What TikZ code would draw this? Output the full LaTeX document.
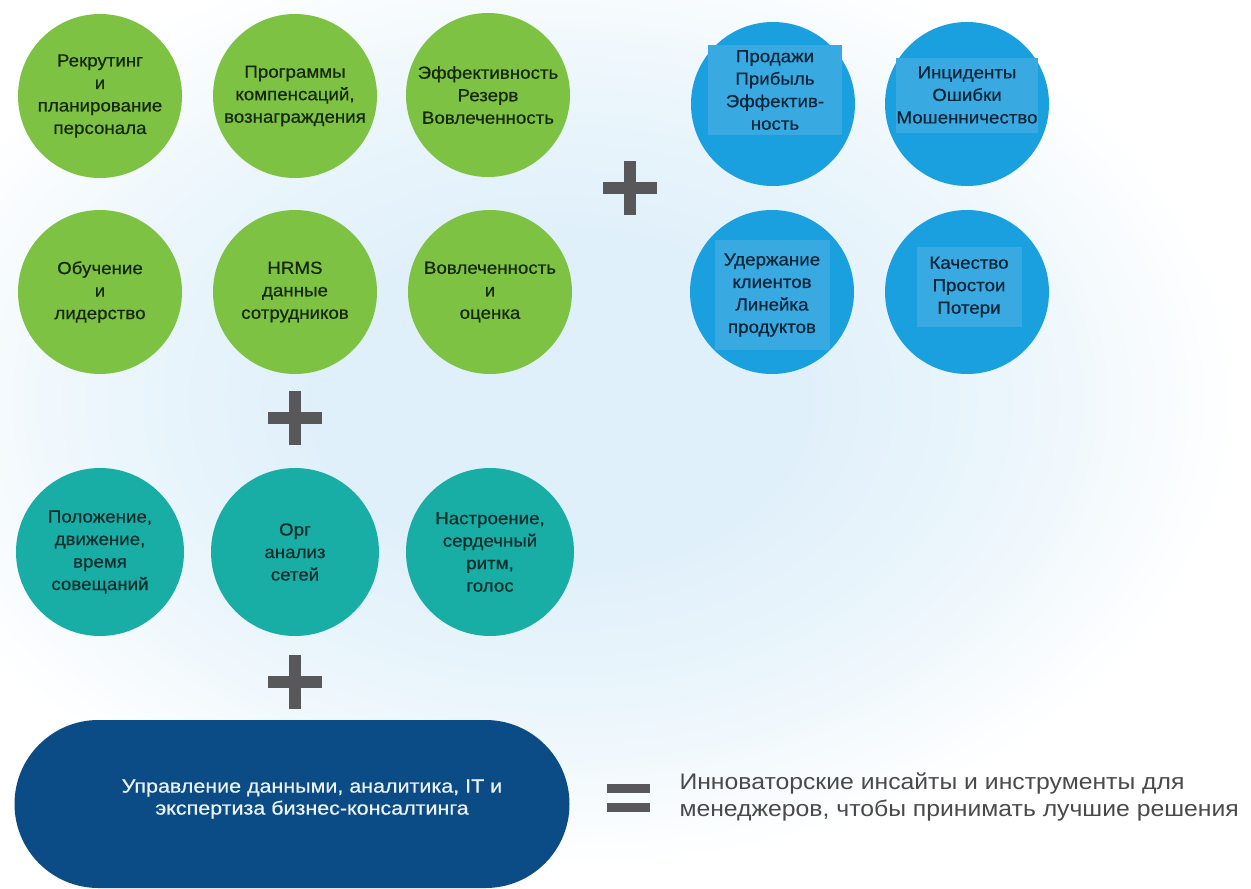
\documentclass[tikz,border=0pt]{standalone}
\usepackage{fontspec}
\setmainfont{Liberation Sans}
\newfontfamily\circfont[FakeStretch=1.07, FakeBold=0.6]{Liberation Sans}
\newfontfamily\pillfont[FakeStretch=1.13, FakeBold=0.6]{Liberation Sans}
\newfontfamily\resfont[FakeStretch=1.1]{Liberation Sans}
\definecolor{greenc}{HTML}{7DC242}
\definecolor{tealc}{HTML}{18AEA6}
\definecolor{bluec}{HTML}{1BA0DF}
\definecolor{rectc}{HTML}{38AAE1}
\definecolor{navyc}{HTML}{0B4C86}
\definecolor{signc}{HTML}{58585A}
\definecolor{gtext}{HTML}{17280C}
\definecolor{ttext}{HTML}{0C2E2C}
\definecolor{btext}{HTML}{0A2438}
\definecolor{rtext}{HTML}{4A4A4A}
\definecolor{glowA}{HTML}{E0F0FA}
\definecolor{glowB}{HTML}{ECF6FC}
\pgfdeclareradialshading{glow}{\pgfpoint{0bp}{0bp}}{color(0bp)=(glowA); color(9bp)=(glowA); color(17bp)=(glowB); color(25bp)=(white); color(50bp)=(white)}
\tikzset{
  circtext/.style={font=\circfont\fontsize{17.5}{22.5}\selectfont, align=center},
  gcirc/.style={circle, fill=greenc, minimum size=164pt, inner sep=0pt, circtext, text=gtext},
  tcirc/.style={circle, fill=tealc, minimum size=168pt, inner sep=0pt, circtext, text=ttext},
  bcirc/.style={circle, fill=bluec, minimum size=164pt, inner sep=0pt},
  brect/.style={rectangle, fill=rectc, inner sep=0pt, circtext, text=btext},
  pill/.style={rectangle, rounded corners=84pt, fill=navyc, minimum width=555pt, minimum height=168pt, inner sep=0pt},
  pilltext/.style={font=\pillfont\fontsize{19}{22}\selectfont, align=center, text=white!92!navyc},
  restext/.style={font=\resfont\fontsize{22.5}{27}\selectfont, align=left, text=rtext, anchor=west},
  plussign/.pic={\fill[signc] (-27,-6) rectangle (27,6); \fill[signc] (-6,-27) rectangle (6,27);},
  eqsign/.pic={\fill[signc] (-21.5,-14) rectangle (21.5,-5); \fill[signc] (-21.5,5) rectangle (21.5,14);}
}
\begin{document}
\begin{tikzpicture}[x=1pt, y=-1pt]
\useasboundingbox (0,0) rectangle (1251,889);
\fill[white] (0,0) rectangle (1251,889);
\begin{scope}
\clip (0,0) rectangle (1251,889);
\shade[shading=glow] (560,400) ellipse (680 and 470);
\end{scope}
% green circles
\node[gcirc] (g1) at (100,96) {Рекрутинг\\и\\планирование\\персонала};
\node[gcirc] (g2) at (295,96) {Программы\\компенсаций,\\вознаграждения};
\node[gcirc] (g3) at (488,95) {Эффективность\\Резерв\\Вовлеченность};
\node[gcirc] (g4) at (100,292) {Обучение\\и\\лидерство};
\node[gcirc] (g5) at (295,292) {HRMS\\данные\\сотрудников};
\node[gcirc] (g6) at (490,292) {Вовлеченность\\и\\оценка};
% teal circles
\node[tcirc] (t1) at (100,552) {Положение,\\движение,\\время\\совещаний};
\node[tcirc] (t2) at (295,552) {Орг\\анализ\\сетей};
\node[tcirc] (t3) at (490,552) {Настроение,\\сердечный\\ритм,\\голос};
% blue circles
\node[bcirc] (b1) at (773,104) {};
\node[bcirc] (b2) at (967,104) {};
\node[bcirc] (b3) at (772,292) {};
\node[bcirc] (b4) at (967,292) {};
\node[brect, minimum width=134pt, minimum height=90pt] (b1t) at (775,90) {Продажи\\Прибыль\\Эффектив-\\ность};
\node[brect, minimum width=140pt, minimum height=75pt] (b2t) at (967,95) {Инциденты\\Ошибки\\Мошенничество};
\node[brect, minimum width=115pt, minimum height=110pt] (b3t) at (772,295) {Удержание\\клиентов\\Линейка\\продуктов};
\node[brect, minimum width=105pt, minimum height=80pt] (b4t) at (969,287) {Качество\\Простои\\Потери};
% signs
\pic at (630,188) {plussign};
\pic at (295,418) {plussign};
\pic at (295,682) {plussign};
\pic at (628,798) {eqsign};
% pill
\node[pill] (p) at (292,804) {};
\node[pilltext] (pt) at (312,799) {Управление данными, аналитика, IT и\\экспертиза бизнес-консалтинга};
% result
\node[restext] (r) at (676,797) {Инноваторские инсайты и инструменты для\\менеджеров, чтобы принимать лучшие решения};
\end{tikzpicture}
\end{document}
